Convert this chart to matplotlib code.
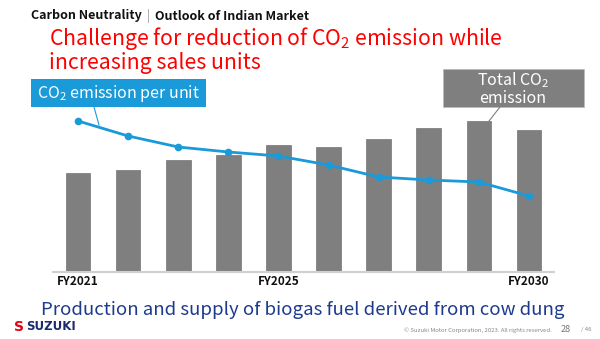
import matplotlib.pyplot as plt
from matplotlib.patches import Rectangle
import numpy as np

plt.rcParams['font.family'] = ['Noto Sans CJK JP', 'DejaVu Sans']
plt.rcParams['mathtext.fontset'] = 'custom'
plt.rcParams['mathtext.rm'] = 'Noto Sans CJK JP'

# data (index values)
years = ['FY2021', 'FY2022', 'FY2023', 'FY2024', 'FY2025',
         'FY2026', 'FY2027', 'FY2028', 'FY2029', 'FY2030']
totalCO2 = [99, 102, 112, 117, 127, 125, 133, 144, 151, 142]
perUnit = [151, 136, 125, 120, 116, 107, 95, 92, 90, 76]
shownTicks = ['FY2021', 'FY2025', 'FY2030']

W, H = 600, 339
fig = plt.figure(figsize=(W/100, H/100), dpi=100)
fig.patch.set_facecolor('white')

def fx(x):
	return x/W

def fy(y):
	return 1 - y/H

#chart area
ax = fig.add_axes([fx(53), fy(272), fx(554-53), (272-110)/H])
x = np.arange(len(years))
ax.bar(x, totalCO2, width=0.49, color='#7f7f7f', edgecolor='#747474', linewidth=0.5, zorder=2)
ax.plot(x, perUnit, color='#1a9ad8', linewidth=2.0, marker='o', markersize=4.5, zorder=3)
ax.set_xlim(-0.5, 9.5)
ax.set_ylim(0, 162)
for s in ['top', 'right', 'left']:
	ax.spines[s].set_visible(False)
ax.spines['bottom'].set_color('#d0d0d0')
ax.spines['bottom'].set_linewidth(1.5)
ax.set_yticks([])
ax.set_xticks([years.index(t) for t in shownTicks])
ax.set_xticklabels(shownTicks, fontsize=8.5, fontweight='bold', color='#111111')
ax.tick_params(axis='x', length=0, pad=2)

#header
fig.text(fx(31), fy(16), 'Carbon Neutrality', fontsize=9, fontweight='bold', color='#111111', va='center')
fig.text(fx(147), fy(16), '|', fontsize=9, color='#999999', va='center')
fig.text(fx(155), fy(16), 'Outlook of Indian Market', fontsize=9, fontweight='bold', color='#111111', va='center')

fig.text(fx(49), fy(39), 'Challenge for reduction of CO$_\\mathregular{2}$ emission while', fontsize=15.3, color='#ff0000', va='center')
fig.text(fx(49), fy(63), 'increasing sales units', fontsize=15.3, color='#ff0000', va='center')

#label boxes
fig.patches.append(Rectangle((fx(31), fy(107)), fx(206-31), (107-79)/H, transform=fig.transFigure, facecolor='#1a9ad8', edgecolor='none'))
fig.text(fx(118), fy(93), 'CO$_\\mathregular{2}$ emission per unit', fontsize=11.5, color='white', ha='center', va='center')
fig.lines.append(plt.Line2D([fx(94), fx(99)], [fy(107), fy(125)], transform=fig.transFigure, color='#1a9ad8', linewidth=0.8))

fig.patches.append(Rectangle((fx(443), fy(107)), fx(584-443), (107-69)/H, transform=fig.transFigure, facecolor='#7f7f7f', edgecolor='#bbbbbb', linewidth=0.5))
fig.text(fx(513), fy(80), 'Total CO$_\\mathregular{2}$', fontsize=11.5, color='white', ha='center', va='center')
fig.text(fx(513), fy(98), 'emission', fontsize=11.5, color='white', ha='center', va='center')
fig.lines.append(plt.Line2D([fx(500), fx(489)], [fy(107), fy(121)], transform=fig.transFigure, color='#7f7f7f', linewidth=0.8))

#footer
fig.text(fx(303), fy(310), 'Production and supply of biogas fuel derived from cow dung', fontsize=13.4, color='#1c3a8e', ha='center', va='center')
fig.text(fx(14), fy(327), 'S', fontsize=10, fontweight='bold', color='#e60012', va='center', family='DejaVu Sans')
fig.text(fx(26), fy(327), 'SUZUKI', fontsize=8.5, fontweight='heavy', color='#1a2a6c', va='center', family='DejaVu Sans')
fig.text(fx(552), fy(330), '\u00a9 Suzuki Motor Corporation, 2023. All rights reserved.', fontsize=4.3, color='#888888', ha='right', va='center')
fig.text(fx(566), fy(330), '28', fontsize=6.5, color='#777777', ha='center', va='center')
fig.text(fx(586), fy(330), '/ 46', fontsize=4.3, color='#888888', ha='center', va='center')

fig.savefig('out.png', dpi=100)
